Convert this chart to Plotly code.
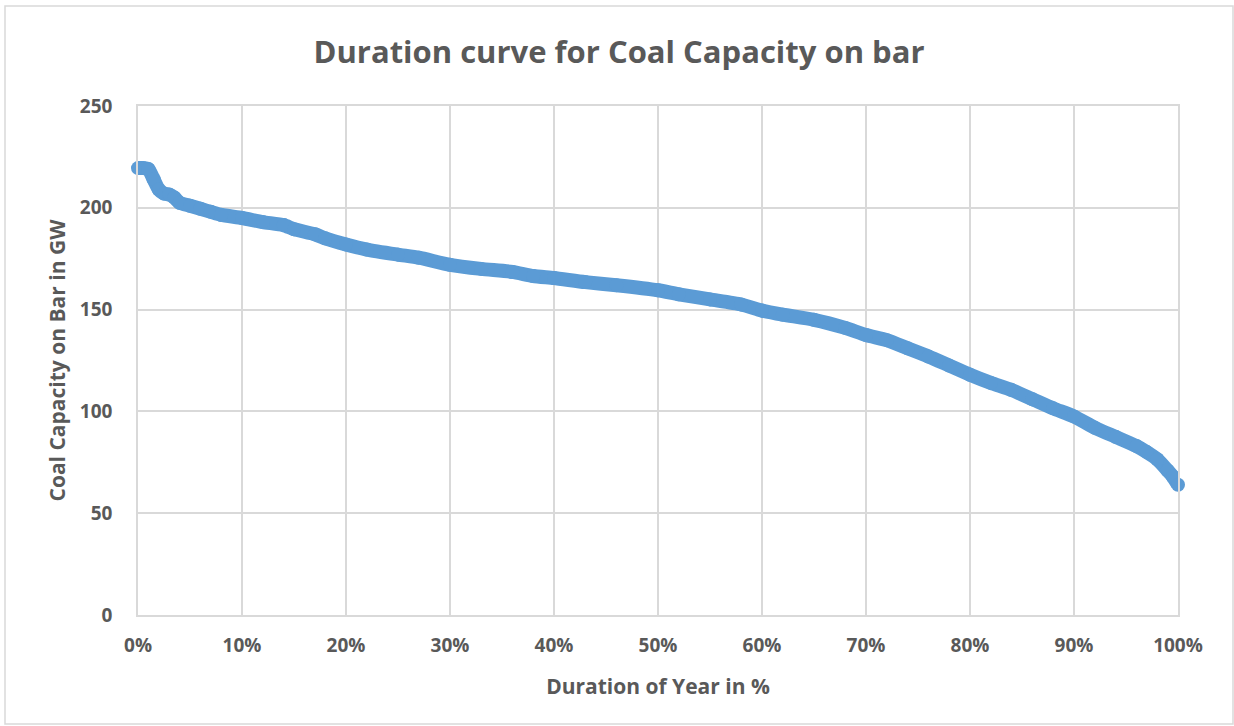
import plotly.graph_objects as go

# Share of the year (fraction) and coal capacity on bar (GW)
duration = [0.0, 0.005, 0.01, 0.015, 0.02, 0.025, 0.03, 0.035, 0.04, 0.05, 0.06, 0.07, 0.08,
            0.10, 0.12, 0.14, 0.15, 0.17, 0.18, 0.20, 0.22, 0.25, 0.27, 0.30, 0.33, 0.36,
            0.38, 0.40, 0.43, 0.46, 0.50, 0.52, 0.55, 0.58, 0.60, 0.62, 0.65, 0.68, 0.70,
            0.72, 0.74, 0.76, 0.78, 0.80, 0.82, 0.84, 0.86, 0.88, 0.90, 0.92, 0.94, 0.96,
            0.97, 0.98, 0.99, 0.995, 1.0]
capacity = [219.5, 219.5, 219, 214, 209, 207, 206.5, 205, 202.5, 201, 199.5, 198, 196.5,
            195, 193, 191.5, 189.5, 187, 185, 182, 179.5, 177, 175.5, 172, 170, 168.5,
            166.5, 165.5, 163.5, 162, 159.5, 157.5, 155, 152.5, 149.5, 147.5, 145, 141, 137.5,
            135, 131, 127, 122.5, 118, 114, 110.5, 106, 101.5, 97.5, 92, 87.5, 83,
            80, 76.5, 71, 68, 64]

x_ticks = [i / 10 for i in range(11)]
y_ticks = [0, 50, 100, 150, 200, 250]

grey = "#595959"
grid = "#d9d9d9"
blue = "#5b9bd5"

fig = go.Figure()
fig.add_trace(go.Scatter(
    x=duration, y=capacity, mode="lines+markers",
    line=dict(color=blue, width=14, shape="spline", smoothing=0.6),
    marker=dict(color=blue, size=14),
    cliponaxis=False, showlegend=False, hoverinfo="x+y",
))

# Plot area: x 138..1178 px, y 106..615 px
pw, ph = 1040, 509
fig.add_shape(type="rect", xref="paper", yref="paper",
              x0=(5 - 138) / pw, x1=(1233 - 138) / pw,
              y0=(615 - 724) / ph, y1=(615 - 6) / ph,
              line=dict(color=grid, width=1.5), fillcolor="rgba(0,0,0,0)", layer="below")

fig.update_layout(
    width=1234, height=726,
    margin=dict(l=138, r=56, t=106, b=111),
    paper_bgcolor="white", plot_bgcolor="white",
    font=dict(family="Open Sans", color=grey),
    title=dict(text="<b>Duration curve for Coal Capacity on bar</b>",
               font=dict(size=31, color=grey, family="Open Sans"),
               x=619 / 1234, xanchor="center", xref="container",
               y=1 - 52 / 726, yanchor="middle", yref="container"),
    xaxis=dict(range=[0, 1], tickvals=x_ticks, tickformat=".0%",
               showgrid=True, gridcolor=grid, gridwidth=1.5,
               showline=True, linecolor=grid, linewidth=1.5, mirror=True,
               zeroline=False, ticks="",
               tickfont=dict(size=19, color=grey, family="Open Sans", weight="bold"),
               ticklabelstandoff=12,
               title=dict(text="<b>Duration of Year in %</b>",
                          font=dict(size=21, color=grey, family="Open Sans"),
                          standoff=23)),
    yaxis=dict(range=[0, 250], tickvals=y_ticks,
               showgrid=True, gridcolor=grid, gridwidth=1.5,
               showline=True, linecolor=grid, linewidth=1.5, mirror=True,
               zeroline=False, ticks="",
               tickfont=dict(size=19, color=grey, family="Open Sans", weight="bold"),
               ticklabelstandoff=20,
               title=dict(text="<b>Coal Capacity on Bar in GW</b>",
                          font=dict(size=21, color=grey, family="Open Sans"),
                          standoff=9)),
)

fig.write_html("out.html", config={"displayModeBar": False},
               post_script="document.body.style.margin='0';document.body.style.overflow='hidden';")
